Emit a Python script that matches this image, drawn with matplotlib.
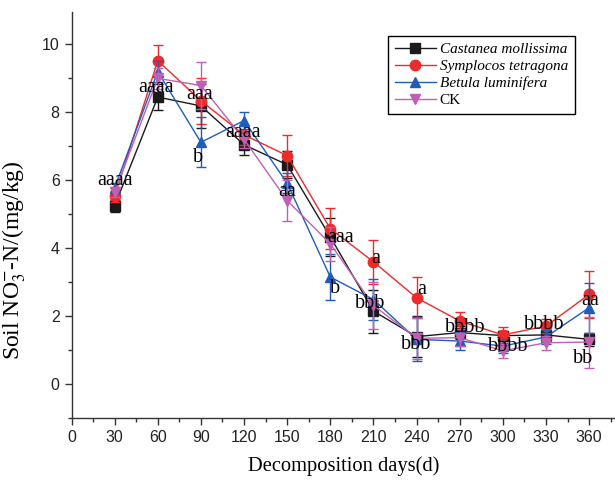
import matplotlib
matplotlib.use("Agg")
import matplotlib.pyplot as plt
from matplotlib.ticker import MultipleLocator
from matplotlib.lines import Line2D

plt.rcParams['mathtext.fontset'] = 'stix'

days = [30, 60, 90, 120, 150, 180, 210, 240, 270, 300, 330, 360]

castanea = [5.24, 8.44, 8.18, 7.04, 6.45, 4.33, 2.15, 1.40, 1.52, 1.43, 1.45, 1.32]
castanea_err = [0.17, 0.38, 0.65, 0.30, 0.40, 0.55, 0.63, 0.60, 0.20, 0.15, 0.15, 0.20]

symplocos = [5.52, 9.51, 8.33, 7.33, 6.72, 4.57, 3.60, 2.54, 1.86, 1.45, 1.71, 2.64]
symplocos_err = [0.15, 0.45, 0.68, 0.30, 0.60, 0.60, 0.65, 0.60, 0.25, 0.24, 0.20, 0.70]

betula = [5.77, 9.19, 7.11, 7.75, 5.91, 3.15, 2.49, 1.32, 1.27, 1.12, 1.39, 2.25]
betula_err = [0.15, 0.30, 0.73, 0.26, 0.30, 0.68, 0.60, 0.65, 0.27, 0.20, 0.20, 0.73]

ck = [5.64, 8.99, 8.78, 7.20, 5.40, 4.13, 2.32, 1.35, 1.37, 0.98, 1.22, 1.24]
ck_err = [0.15, 0.30, 0.70, 0.25, 0.60, 0.50, 0.70, 0.60, 0.25, 0.20, 0.20, 0.75]

series_names = ["Castanea mollissima", "Symplocos tetragona", "Betula luminifera", "CK"]

# significance letters: (day, value, text)
sig_labels = [
    (30, 5.87, "aaaa"), (58.8, 8.60, "aaaa"), (89.2, 8.39, "aaa"), (88, 6.52, "b"),
    (119, 7.26, "aaaa"), (150, 5.54, "aa"), (186.8, 4.19, "aaa"), (183.3, 2.67, "b"),
    (211.8, 3.57, "a"), (208, 2.25, "bbb"), (243.5, 2.66, "a"), (239.7, 1.03, "bbb"),
    (274, 1.53, "bbbb"), (304, 0.98, "bbbb"), (329, 1.63, "bbbb"),
    (360.5, 2.32, "aa"), (355.6, 0.62, "bb"),
]

fig = plt.figure(figsize=(6.15, 4.83), dpi=100)
ax = fig.add_axes([71.5 / 615, (483 - 418.3) / 483, (615 - 71.5) / 615, (418.3 - 12) / 483])

styles = [
    dict(color="#1a1a1a", marker="s"),
    dict(color="#ee2a2a", marker="o"),
    dict(color="#1f5cbc", marker="^"),
    dict(color="#c060b2", marker="v"),
]
data = [(castanea, castanea_err), (symplocos, symplocos_err), (betula, betula_err), (ck, ck_err)]

handles = []
for i, ((vals, errs), st, name) in enumerate(zip(data, styles, series_names)):
    ax.errorbar(days, vals, yerr=errs, color=st["color"], marker=st["marker"],
                markersize=7.5, linewidth=1.0, elinewidth=1.0, capsize=3.5,
                capthick=1.0, zorder=3 + i)
    handles.append(Line2D([], [], color=st["color"], marker=st["marker"],
                          markersize=7.5, linewidth=1.0, label=name))

for x, y, t in sig_labels:
    ax.text(x, y, t, ha="center", va="baseline", fontsize=14.5,
            family="Liberation Serif", color="black", zorder=10)

ax.set_xlim(0, 378)
ax.set_ylim(-1.0, 10.94)
ax.set_xticks(range(0, 361, 30))
ax.xaxis.set_minor_locator(MultipleLocator(15))
ax.set_yticks([0, 2, 4, 6, 8, 10])
ax.yaxis.set_minor_locator(MultipleLocator(1))

for s in ["top", "right"]:
    ax.spines[s].set_visible(False)
for s in ["left", "bottom"]:
    ax.spines[s].set_linewidth(1.0)
    ax.spines[s].set_color("#333333")

ax.tick_params(which="major", direction="out", length=5, width=1.0, color="#333333",
               labelsize=11.5, labelcolor="#222222")
ax.tick_params(which="minor", direction="out", length=3, width=1.0, color="#333333")
for lab in ax.get_xticklabels() + ax.get_yticklabels():
    lab.set_family("Liberation Sans")

ax.set_xlabel("Decomposition days(d)", fontsize=14.8, family="Liberation Serif", labelpad=8)
ax.set_ylabel(r"Soil NO$_3^{-}$-N/(mg/kg)", fontsize=17, family="Liberation Serif")
ax.yaxis.set_label_coords(-0.080, 0.39)

leg = ax.legend(handles=handles, loc="upper right", bbox_to_anchor=(0.926, 0.942),
                borderaxespad=0, frameon=True, fancybox=False, edgecolor="black",
                framealpha=1, handlelength=2.7, handletextpad=0.25, labelspacing=0.22,
                borderpad=0.45, prop={"family": "Liberation Serif", "size": 11})
leg.get_frame().set_linewidth(1.0)
for i, txt in enumerate(leg.get_texts()):
    if i < 3:
        txt.set_style("italic")

fig.savefig("out.png", dpi=100)
